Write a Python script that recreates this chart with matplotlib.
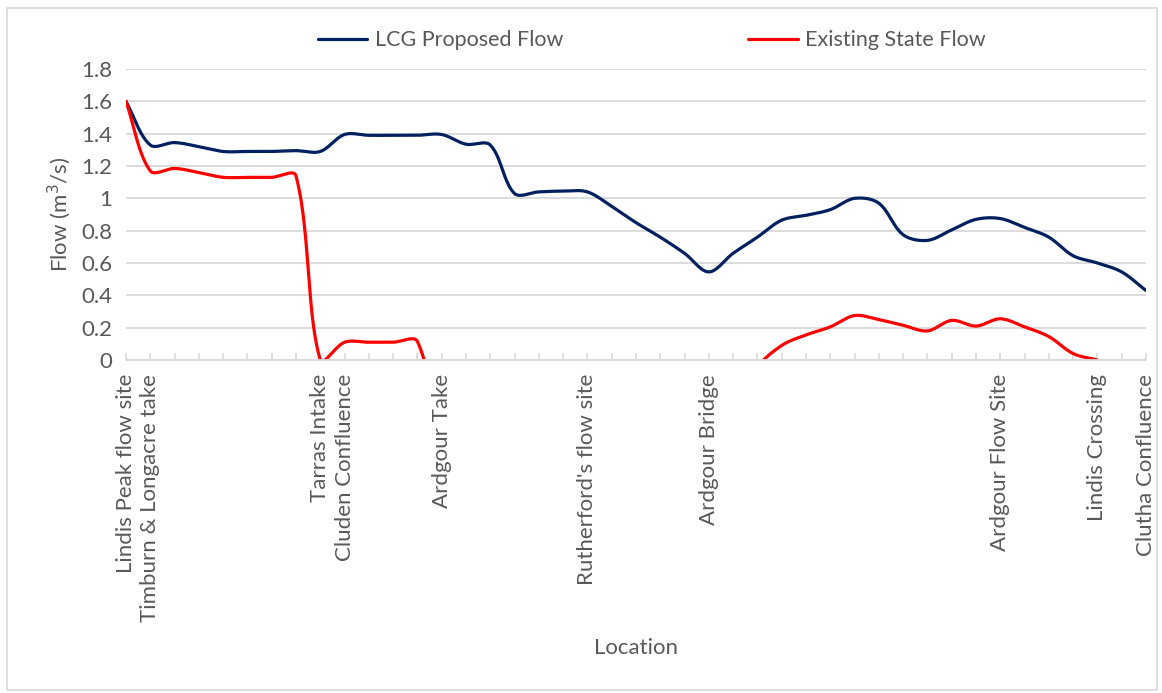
"""
Flow along the Lindis: LCG proposed flow vs existing state flow.
Excel-style smoothed line chart, saved to out.png.
"""

import matplotlib
matplotlib.use("Agg")
import matplotlib.pyplot as plt
import numpy as np
from matplotlib.patches import Rectangle

plt.rcParams["font.family"] = ["Lato", "DejaVu Sans"]

# 43 locations along the river, only some carry a label
locations = [
    "Lindis Peak flow site", "Timburn & Longacre take", "", "", "", "", "", "",
    "Tarras Intake", "Cluden Confluence", "", "", "", "Ardgour Take", "", "", "",
    "", "", "Rutherford's flow site", "", "", "", "", "Ardgour Bridge", "", "",
    "", "", "", "", "", "", "", "", "", "Ardgour Flow Site", "", "", "",
    "Lindis Crossing", "", "Clutha Confluence",
]

lcg_flow = [
    1.60, 1.33, 1.345, 1.32, 1.29, 1.29, 1.29, 1.295, 1.29, 1.395, 1.39,
    1.39, 1.39, 1.395, 1.335, 1.33, 1.03, 1.04, 1.045, 1.04, 0.95, 0.85,
    0.76, 0.66, 0.545, 0.66, 0.76, 0.865, 0.895, 0.93, 1.00, 0.97, 0.775,
    0.74, 0.805, 0.87, 0.875, 0.82, 0.76, 0.645, 0.60, 0.545, 0.43,
]

# below-zero points fall off the axis; NaN = no value
existing_flow = [
    1.60, 1.17, 1.185, 1.16, 1.13, 1.13, 1.13, 1.14, 0.0, 0.11, 0.11,
    0.11, 0.115, -0.55, np.nan, np.nan, np.nan, np.nan, np.nan, np.nan,
    np.nan, np.nan, np.nan, np.nan, np.nan, -0.4, -0.05, 0.09, 0.155,
    0.205, 0.275, 0.25, 0.215, 0.18, 0.245, 0.21, 0.255, 0.205, 0.145,
    0.04, 0.0, np.nan, np.nan,
]

series_names = ["LCG Proposed Flow", "Existing State Flow"]
y_ticks = [0, 0.2, 0.4, 0.6, 0.8, 1, 1.2, 1.4, 1.6, 1.8]

NAVY = "#002060"
RED = "#FF0000"
GRID = "#D9D9D9"
TEXT = "#595959"
FS = 16

# pixel size of one category step / one flow unit, so the smoothing
# behaves like Excel's (which works in screen space)
SX, SY = 24.3, 161.7


def excel_smooth(xs, ys, n=40):
    """Bezier smoothing with chord-length scaled control points."""
    xs = np.asarray(xs, float)
    ys = np.asarray(ys, float)
    out_x, out_y = [], []
    idx = np.flatnonzero(~np.isnan(ys))
    runs = np.split(idx, np.flatnonzero(np.diff(idx) > 1) + 1)
    t = np.linspace(0, 1, n)[:, None]
    for run in runs:
        if len(run) < 2:
            continue
        P = np.column_stack([xs[run] * SX, ys[run] * SY])
        for i in range(len(P) - 1):
            p0 = P[i - 1] if i > 0 else P[i]
            p1, p2 = P[i], P[i + 1]
            p3 = P[i + 2] if i + 2 < len(P) else P[i + 1]
            d01 = np.linalg.norm(p1 - p0)
            d12 = np.linalg.norm(p2 - p1)
            d23 = np.linalg.norm(p3 - p2)
            c1 = p1 + (p2 - p0) / 3 * d12 / (d01 + d12)
            c2 = p2 - (p3 - p1) / 3 * d12 / (d12 + d23)
            seg = ((1 - t) ** 3 * p1 + 3 * (1 - t) ** 2 * t * c1
                   + 3 * (1 - t) * t ** 2 * c2 + t ** 3 * p2)
            out_x.extend(seg[:, 0] / SX)
            out_y.extend(seg[:, 1] / SY)
        out_x.append(np.nan)
        out_y.append(np.nan)
    return np.array(out_x), np.array(out_y)


fig = plt.figure(figsize=(11.62, 6.93), dpi=100)
ax = fig.add_axes([0.1084, 0.4805, 0.8778, 0.4199])

x = np.arange(len(locations))
for vals, color, name in [(lcg_flow, NAVY, series_names[0]),
                          (existing_flow, RED, series_names[1])]:
    sx, sy = excel_smooth(x, vals)
    ax.plot(sx, sy, color=color, lw=2.3, label=name,
            solid_capstyle="round", solid_joinstyle="round")

ax.set_xlim(0, len(locations) - 1)
ax.set_ylim(0, 1.8)
ax.set_yticks(y_ticks)
ax.set_yticklabels([f"{v:g}" for v in y_ticks])
ax.set_xticks(x)
ax.set_xticklabels(locations, rotation=90, va="top", ha="center")

ax.grid(axis="y", color=GRID, lw=1.3)
ax.set_axisbelow(True)
for side in ["top", "right", "left"]:
    ax.spines[side].set_visible(False)
ax.spines["bottom"].set_color(GRID)
ax.spines["bottom"].set_linewidth(1.3)
ax.tick_params(axis="x", direction="in", length=5, width=1.2, color=GRID,
               labelsize=FS, labelcolor=TEXT, pad=10)
ax.tick_params(axis="y", length=0, labelsize=FS, labelcolor=TEXT, pad=10)

ax.set_ylabel("Flow (m$^3$/s)", fontsize=FS, color=TEXT, labelpad=6)
fig.text(0.547, 0.065, "Location", ha="center", va="center",
         fontsize=FS, color=TEXT)

fig.legend(loc="center", bbox_to_anchor=(0.561, 0.942), ncol=2, frameon=False,
           fontsize=FS - 0.5, labelcolor=TEXT, handlelength=2.3,
           handletextpad=0.35, columnspacing=8.6)

fig.patches.append(Rectangle((0.006, 0.004), 0.99, 0.985, transform=fig.transFigure,
                             fill=False, edgecolor=GRID, lw=1.2))

fig.savefig("out.png", dpi=100)
